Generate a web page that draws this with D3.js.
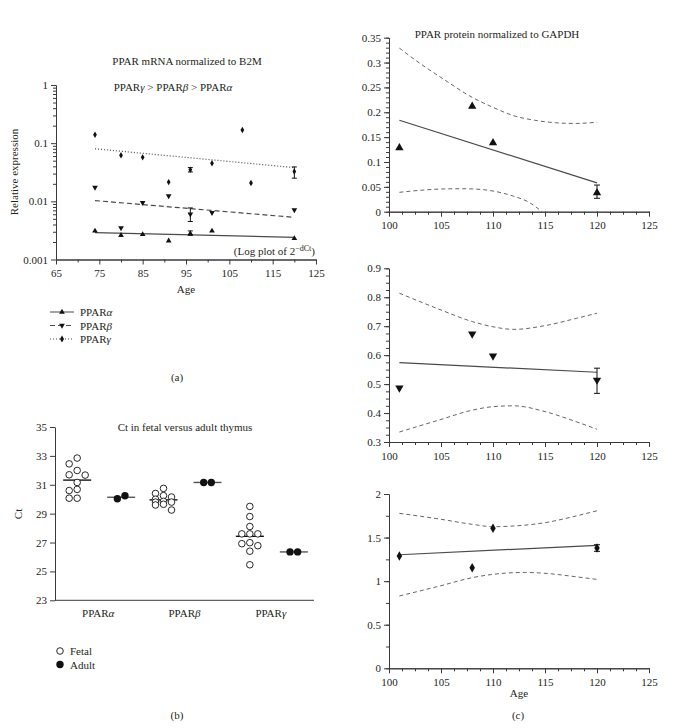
<!DOCTYPE html>
<html><head><meta charset="utf-8">
<script src="https://cdn.jsdelivr.net/npm/d3@7"></script>
<style>
body{margin:0;background:#fff}
text{font-family:"Liberation Serif","DejaVu Serif",serif;fill:#231f20;font-size:11px}
.domain,.tick line{stroke:#3a3a3a}
</style>
</head><body>
<svg id="c" width="684" height="728"></svg>
<script>
// ---------- Panel (a): mRNA, log scale ----------
const mrnaAges = [74, 80, 85, 91, 96, 101, 120];
const alphaMrna = [0.0031, 0.0026, 0.0027, 0.0021, 0.0028, 0.0031, 0.0023];
const betaMrna = [0.0173, 0.0035, 0.0095, 0.0124, 0.0060, 0.0064, 0.0071];
const gammaAges = [74, 80, 85, 91, 96, 101, 108, 110, 120];
const gammaMrna = [0.14, 0.062, 0.057, 0.0214, 0.035, 0.045, 0.169, 0.0206, 0.0327];
const alphaMrnaErr = [[96, 0.0026, 0.0031]];
const betaMrnaErr = [[96, 0.0045, 0.0077]];
const gammaMrnaErr = [[96, 0.032, 0.038], [120, 0.025, 0.039]];
const alphaMrnaFit = [[74, 0.0029], [120, 0.0024]];
const betaMrnaFit = [[74, 0.0103], [120, 0.0053]];
const gammaMrnaFit = [[74, 0.080], [120, 0.038]];
const mrnaYTicks = [0.001, 0.01, 0.1, 1];
const mrnaXTicks = [65, 75, 85, 95, 105, 115, 125];

// ---------- Panel (b): Ct values ----------
const ctGenes = ["PPARα", "PPARβ", "PPARγ"];
const fetalCt = [
  [32.85, 32.45, 31.99, 31.69, 31.67, 31.16, 30.68, 30.60, 30.07, 30.07],
  [30.75, 30.40, 30.25, 30.15, 30.00, 29.85, 29.80, 29.80, 29.65, 29.60, 29.25],
  [29.50, 28.80, 28.11, 27.60, 27.60, 27.60, 26.99, 26.92, 26.78, 26.40, 25.46]
];
const adultCt = [[30.03, 30.24], [31.16, 31.16], [26.35, 26.35]];
const ctTicks = [23, 25, 27, 29, 31, 33, 35];

// ---------- Panel (c): protein ----------
const proteinAges = [101, 108, 110, 120];
const proteinXTicks = [100, 105, 110, 115, 120, 125];
const alphaProtein = [0.1285, 0.212, 0.1386, 0.038];
const alphaProteinErr = [[120, 0.027, 0.0536]];
const alphaProteinFit = [[101, 0.184], [120, 0.058]];
const alphaUpper = [[101, 0.329], [103, 0.298], [105, 0.270], [108, 0.230], [110, 0.210], [112, 0.193], [114, 0.184], [116, 0.179], [118, 0.1775], [120, 0.180]];
const alphaLower = [[101, 0.039], [103, 0.043], [105, 0.0456], [107, 0.0462], [108, 0.0458], [110, 0.0416], [112, 0.031], [113.5, 0.0185], [114.7, 0.0]];
const betaProtein = [0.487, 0.673, 0.597, 0.514];
const betaProteinErr = [[120, 0.468, 0.555]];
const betaProteinFit = [[101, 0.574], [120, 0.541]];
const betaUpper = [[101, 0.814], [105, 0.756], [108, 0.716], [110, 0.698], [112, 0.689], [115, 0.702], [118, 0.727], [120, 0.745]];
const betaLower = [[101, 0.3345], [105, 0.378], [108, 0.410], [110, 0.422], [112, 0.425], [115, 0.405], [118, 0.370], [120, 0.344]];
const gammaProtein = [1.289, 1.154, 1.606, 1.38];
const gammaProteinErr = [[120, 1.342, 1.418]];
const gammaProteinFit = [[101, 1.303], [120, 1.411]];
const gammaUpper = [[101, 1.778], [105, 1.710], [108, 1.652], [110, 1.625], [112, 1.633], [115, 1.671], [118, 1.748], [120, 1.808]];
const gammaLower = [[101, 0.830], [105, 0.948], [108, 1.040], [110, 1.078], [113, 1.100], [115, 1.090], [118, 1.050], [120, 1.020]];

const svg = d3.select("#c");
const INK = "#111";
const LINE = "#4a4a4a";

function symbol(g, type, x, y, size) {
  const t = type === "diamond" ? d3.symbolDiamond : (type === "circle" ? d3.symbolCircle : d3.symbolTriangle);
  g.append("path")
    .attr("d", d3.symbol(t, size)())
    .attr("transform", `translate(${x},${y})` + (type === "down" ? " rotate(180)" : ""))
    .attr("fill", INK);
}
function errBars(g, xs, ys, errs, cap) {
  errs.forEach(([a, lo, hi]) => {
    const x = xs(a);
    g.append("line").attr("x1", x).attr("x2", x).attr("y1", ys(lo)).attr("y2", ys(hi)).attr("stroke", INK).attr("stroke-width", 1);
    [lo, hi].forEach(v => g.append("line").attr("x1", x - cap).attr("x2", x + cap).attr("y1", ys(v)).attr("y2", ys(v)).attr("stroke", INK).attr("stroke-width", 1));
  });
}
function greekLabel(sel, base, greek) {
  sel.append("tspan").text(base);
  sel.append("tspan").attr("font-style", "italic").text(greek);
}

// ================= Panel (a) =================
{
  const g = svg.append("g");
  const x = d3.scaleLinear().domain([65, 125]).range([56, 316]);
  const y = d3.scaleLog().domain([0.001, 1]).range([259.5, 85]);

  g.append("g").attr("transform", "translate(56,0)")
    .call(d3.axisLeft(y).tickValues(y.ticks().filter(v => !mrnaYTicks.includes(v))).tickFormat("").tickSize(3).tickSizeOuter(0));
  g.append("g").attr("transform", "translate(56,0)")
    .call(d3.axisLeft(y).tickValues(mrnaYTicks).tickFormat(d => String(d)).tickSize(5).tickSizeOuter(0).tickPadding(3));
  g.append("g").attr("transform", "translate(0,259.5)")
    .call(d3.axisBottom(x).tickValues(d3.range(70, 121, 10)).tickFormat("").tickSize(3).tickSizeOuter(0));
  g.append("g").attr("transform", "translate(0,259.5)")
    .call(d3.axisBottom(x).tickValues(mrnaXTicks).tickFormat(d3.format("d")).tickSize(5).tickSizeOuter(0).tickPadding(5));
  g.selectAll(".tick text").attr("font-size", 11).attr("font-family", "Liberation Serif");

  const line = d3.line().x(d => x(d[0])).y(d => y(d[1]));
  g.append("path").attr("d", line(alphaMrnaFit)).attr("fill", "none").attr("stroke", LINE).attr("stroke-width", 1.2);
  g.append("path").attr("d", line(betaMrnaFit)).attr("fill", "none").attr("stroke", LINE).attr("stroke-width", 1.2).attr("stroke-dasharray", "5,3");
  g.append("path").attr("d", line(gammaMrnaFit)).attr("fill", "none").attr("stroke", LINE).attr("stroke-width", 1.2).attr("stroke-dasharray", "1,2");

  errBars(g, x, y, alphaMrnaErr, 2.5);
  errBars(g, x, y, betaMrnaErr, 2.5);
  errBars(g, x, y, gammaMrnaErr, 2.5);
  mrnaAges.forEach((a, i) => symbol(g, "up", x(a), y(alphaMrna[i]), 14));
  mrnaAges.forEach((a, i) => symbol(g, "down", x(a), y(betaMrna[i]), 14));
  gammaAges.forEach((a, i) => symbol(g, "diamond", x(a), y(gammaMrna[i]), 12));

  g.append("text").attr("x", 187).attr("y", 65).attr("text-anchor", "middle").text("PPAR mRNA normalized to B2M");
  const sub = g.append("text").attr("x", 173).attr("y", 91).attr("text-anchor", "middle");
  greekLabel(sub, "PPAR", "γ"); sub.append("tspan").text(" > ");
  greekLabel(sub, "PPAR", "β"); sub.append("tspan").text(" > ");
  greekLabel(sub, "PPAR", "α");
  const lp = g.append("text").attr("x", 315).attr("y", 255).attr("text-anchor", "end");
  lp.append("tspan").text("(Log plot of 2");
  lp.append("tspan").attr("dy", -4).attr("font-size", 8).text("−dCt");
  lp.append("tspan").attr("dy", 4).text(")");
  g.append("text").attr("transform", "translate(18,172) rotate(-90)").attr("text-anchor", "middle").text("Relative expression");
  g.append("text").attr("x", 186).attr("y", 293).attr("text-anchor", "middle").text("Age");

  const leg = [["α", null, "up"], ["β", "5,3", "down"], ["γ", "1,2", "diamond"]];
  leg.forEach(([gr, dash, s], i) => {
    const yy = 312 + i * 13.5;
    const l = g.append("line").attr("x1", 50).attr("x2", 74).attr("y1", yy).attr("y2", yy).attr("stroke", LINE).attr("stroke-width", 1);
    if (dash) l.attr("stroke-dasharray", dash);
    symbol(g, s, 62, yy, 14);
    const t = g.append("text").attr("x", 80).attr("y", yy + 4);
    greekLabel(t, "PPAR", gr);
  });
  g.append("text").attr("x", 177).attr("y", 381).attr("text-anchor", "middle").text("(a)");
}

// ================= Panel (b) =================
{
  const g = svg.append("g");
  const x = d3.scaleBand().domain(ctGenes).range([55, 314]);
  const sub = d3.scalePoint().domain(["Fetal", "Adult"]).range([-21, 23]);
  const y = d3.scaleLinear().domain([23, 35]).range([600.3, 427]);

  g.append("g").attr("transform", "translate(55,0)")
    .call(d3.axisLeft(y).tickValues(ctTicks).tickSize(5).tickSizeOuter(0).tickPadding(3));
  g.append("line").attr("x1", 55).attr("x2", 314).attr("y1", 600.3).attr("y2", 600.3).attr("stroke", "#3a3a3a");
  g.selectAll(".tick text").attr("font-size", 11).attr("font-family", "Liberation Serif");
  ctGenes.forEach(c => {
    const t = g.append("text").attr("x", x(c) + x.bandwidth() / 2).attr("y", 617).attr("text-anchor", "middle");
    greekLabel(t, "PPAR", c.slice(4));
  });

  // three-column dot plot: first free column, else the least crowded one
  function swarm(vals, step, minDist) {
    const sorted = vals.map((v, i) => ({ v, i })).sort((a, b) => b.v - a.v);
    const placed = [], out = [];
    for (const p of sorted) {
      const yy = y(p.v);
      let best = null, bestD = -1;
      for (const k of [0, -1, 1]) {
        const xx = k * step;
        const d = placed.length ? d3.min(placed, q => Math.hypot(q.x - xx, q.y - yy)) : Infinity;
        if (d >= minDist) { best = xx; break; }
        if (d > bestD) { bestD = d; best = xx; }
      }
      placed.push({ x: best, y: yy }); out.push({ x: best, y: yy });
    }
    return out;
  }
  ctGenes.forEach((c, gi) => {
    const fc = x(c) + x.bandwidth() / 2 + sub("Fetal");
    const ac = x(c) + x.bandwidth() / 2 + sub("Adult");
    const fMean = d3.mean(fetalCt[gi]), aMean = d3.mean(adultCt[gi]);
    g.append("line").attr("x1", fc - 14).attr("x2", fc + 14).attr("y1", y(fMean)).attr("y2", y(fMean)).attr("stroke", INK).attr("stroke-width", 1.4);
    g.append("line").attr("x1", ac - 14).attr("x2", ac + 14).attr("y1", y(aMean)).attr("y2", y(aMean)).attr("stroke", "#555").attr("stroke-width", 1.4);
    swarm(fetalCt[gi], 8, 6.5).forEach(p => {
      g.append("circle").attr("cx", fc + p.x).attr("cy", p.y).attr("r", 3.3).attr("fill", "#fff").attr("stroke", INK).attr("stroke-width", 0.9);
    });
    const n = adultCt[gi].length;
    adultCt[gi].forEach((v, i) => {
      g.append("circle").attr("cx", ac + (i - (n - 1) / 2) * 7.6).attr("cy", y(v)).attr("r", 3.7).attr("fill", INK);
    });
  });

  g.append("text").attr("x", 185).attr("y", 431).attr("text-anchor", "middle").text("Ct in fetal versus adult thymus");
  g.append("text").attr("transform", "translate(22,514) rotate(-90)").attr("text-anchor", "middle").text("Ct");
  g.append("circle").attr("cx", 60).attr("cy", 651).attr("r", 3.3).attr("fill", "#fff").attr("stroke", INK).attr("stroke-width", 0.9);
  g.append("text").attr("x", 70).attr("y", 655).text("Fetal");
  g.append("circle").attr("cx", 60).attr("cy", 664.5).attr("r", 3.7).attr("fill", INK);
  g.append("text").attr("x", 70).attr("y", 668.5).text("Adult");
  g.append("text").attr("x", 177).attr("y", 719).attr("text-anchor", "middle").text("(b)");
}

// ================= Panel (c) =================
function proteinPanel(o) {
  const g = svg.append("g");
  const x = d3.scaleLinear().domain([100, 125]).range([389, 649]);
  const y = d3.scaleLinear().domain(o.yDomain).range(o.yRange);
  const x0 = 389, y0 = o.yRange[0];
  g.append("g").attr("transform", `translate(${x0},0)`)
    .call(d3.axisLeft(y).tickValues(d3.range(o.yDomain[0], o.yDomain[1] + 1e-9, o.minor)).tickFormat("").tickSize(3).tickSizeOuter(0));
  g.append("g").attr("transform", `translate(${x0},0)`)
    .call(d3.axisLeft(y).tickValues(o.major).tickFormat(d3.format("~g")).tickSize(5).tickSizeOuter(0).tickPadding(3));
  g.append("g").attr("transform", `translate(0,${y0})`)
    .call(d3.axisBottom(x).tickValues(d3.range(100, 125.01, 1.25)).tickFormat("").tickSize(3).tickSizeOuter(0));
  g.append("g").attr("transform", `translate(0,${y0})`)
    .call(d3.axisBottom(x).tickValues(proteinXTicks).tickFormat(d3.format("d")).tickSize(5).tickSizeOuter(0).tickPadding(5));
  g.selectAll(".tick text").attr("font-size", 11).attr("font-family", "Liberation Serif");

  const straight = d3.line().x(d => x(d[0])).y(d => y(d[1]));
  const curve = d3.line().x(d => x(d[0])).y(d => y(d[1])).curve(d3.curveMonotoneX);
  g.append("path").attr("d", straight(o.fit)).attr("fill", "none").attr("stroke", LINE).attr("stroke-width", 1.2);
  [o.upper, o.lower].forEach(b => g.append("path").attr("d", curve(b)).attr("fill", "none").attr("stroke", "#666").attr("stroke-width", 1).attr("stroke-dasharray", "4,3"));
  errBars(g, x, y, o.err, 3);
  proteinAges.forEach((a, i) => symbol(g, o.sym, x(a), y(o.vals[i]), o.sym === "diamond" ? 26 : 30));
  if (o.title) g.append("text").attr("x", 497).attr("y", 38).attr("text-anchor", "middle").text(o.title);
  if (o.xlabel) g.append("text").attr("x", 519).attr("y", 697).attr("text-anchor", "middle").text(o.xlabel);
}
proteinPanel({ yDomain: [0, 0.35], yRange: [211.7, 37.7], major: d3.range(0, 0.351, 0.05).map(v => +v.toFixed(2)), minor: 0.01,
  vals: alphaProtein, err: alphaProteinErr, fit: alphaProteinFit, upper: alphaUpper, lower: alphaLower, sym: "up",
  title: "PPAR protein normalized to GAPDH" });
proteinPanel({ yDomain: [0.3, 0.9], yRange: [442, 268.3], major: [0.3, 0.4, 0.5, 0.6, 0.7, 0.8, 0.9], minor: 0.025,
  vals: betaProtein, err: betaProteinErr, fit: betaProteinFit, upper: betaUpper, lower: betaLower, sym: "down" });
proteinPanel({ yDomain: [0, 2], yRange: [668.3, 494], major: [0, 0.5, 1, 1.5, 2], minor: 0.25,
  vals: gammaProtein, err: gammaProteinErr, fit: gammaProteinFit, upper: gammaUpper, lower: gammaLower, sym: "diamond",
  xlabel: "Age" });
svg.append("text").attr("x", 518).attr("y", 719).attr("text-anchor", "middle").text("(c)");
</script>
</body></html>
